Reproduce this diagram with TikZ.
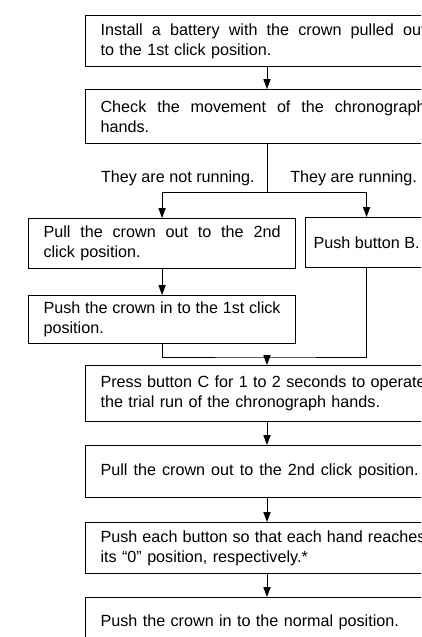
\documentclass[tikz,border=0pt]{standalone}
\usepackage{fontspec}
\setmainfont{Liberation Sans}
\usetikzlibrary{arrows.meta}
\newcommand{\stretchline}[2][8.125cm]{{\spaceskip=0pt\xspaceskip=0pt\makebox[#1][s]{#2}}}
\tikzset{
  stepbox/.style={draw, rectangle, line width=0.8pt, anchor=north west, inner ysep=0pt, inner xsep=0.375cm, align=left},
  widebox/.style={stepbox, text width=8.125cm},
  halfbox/.style={stepbox, text width=5.925cm},
  flow/.style={line width=0.7pt, -{Triangle[width=0.18cm,length=0.25cm]}},
  link/.style={line width=0.7pt},
}

\begin{document}
\begin{tikzpicture}[font=\fontsize{11.5pt}{14.2pt}\selectfont]
  \useasboundingbox (0,0) rectangle (10.525,-15.925);
  \clip (0,0) rectangle (10.525,-15.925);

  \coordinate (trunk) at (6.675,0);

  % first steps
  \node [widebox, minimum height=1.275cm] (battery) at (2.125,-0.375) {\stretchline{Install a battery with the crown pulled out}\\to the 1st click position.};
  \node [widebox, minimum height=1.35cm] (check) at (2.125,-2.225) {\stretchline{Check the movement of the chronograph}\\hands.};

  % the two cases
  \node [inner sep=0pt, anchor=east] (notrun) at (6.375,-4.45) {They are not running.};
  \node [inner sep=0pt, anchor=west] (run) at (7.25,-4.45) {They are running.};

  \node [halfbox, minimum height=1.25cm] (pullout) at (0.7,-5.45) {\stretchline[5.925cm]{Pull the crown out to the 2nd}\\click position.};
  \node [stepbox, inner xsep=0.1cm, minimum width=3.05cm, minimum height=1.25cm] (pushb) at (7.625,-5.425) {Push button B.};
  \node [halfbox, minimum height=1.2cm] (pushin) at (0.7,-7.375) {\stretchline[5.925cm]{Push the crown in to the 1st click}\\position.};

  % remaining steps
  \node [widebox, minimum height=1.4cm] (pressc) at (2.125,-9.125) {\stretchline{Press button C for 1 to 2 seconds to operate}\\the trial run of the chronograph hands.};
  \node [widebox, minimum height=1.3cm] (pullagain) at (2.125,-11.125) {\stretchline[7.95cm]{Pull the crown out to the 2nd click position.}};
  \node [widebox, minimum height=1.275cm] (zero) at (2.125,-13.05) {\stretchline{Push each button so that each hand reaches}\\its “0” position, respectively.*};
  \node [widebox, minimum height=1.25cm] (normal) at (2.125,-14.925) {Push the crown in to the normal position.};

  % connectors
  \coordinate (branch) at (6.675,-4.8);
  \coordinate (merge) at (6.675,-8.925);
  \draw [flow] (battery.south -| trunk) -- (check.north -| trunk);
  \draw [link] (check.south -| trunk) -- (branch);
  \draw [flow] (branch) -| (pullout.north);
  \draw [flow] (branch) -| (pushb.north);
  \draw [flow] (pullout) -- (pushin);
  \draw [link] (pushin.south) |- (merge) -| (pushb.south);
  \draw [flow] (merge) -- (pressc.north -| trunk);
  \draw [flow] (pressc.south -| trunk) -- (pullagain.north -| trunk);
  \draw [flow] (pullagain.south -| trunk) -- (zero.north -| trunk);
  \draw [flow] (zero.south -| trunk) -- (normal.north -| trunk);
\end{tikzpicture}
\end{document}
